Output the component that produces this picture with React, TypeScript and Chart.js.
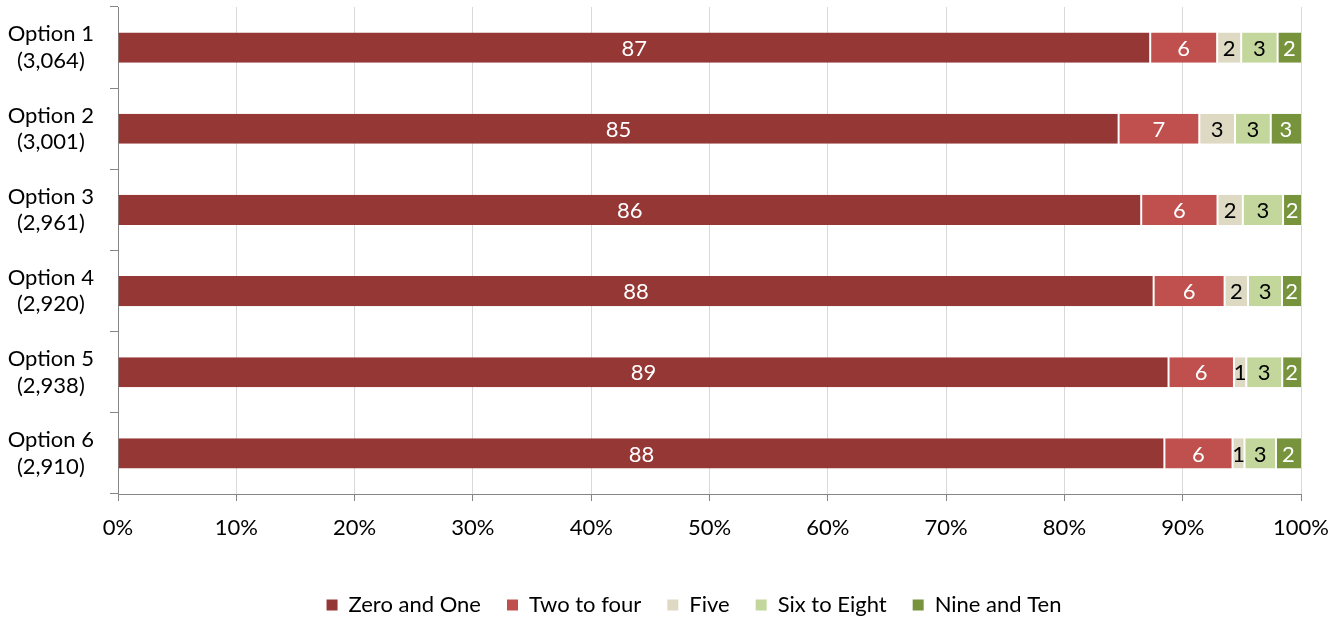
import { useEffect, useRef } from 'react';
import { Chart, registerables } from 'chart.js';

Chart.register(...registerables);

const categories = ['Option 1', 'Option 2', 'Option 3', 'Option 4', 'Option 5', 'Option 6'];
const respondents = ['(3,064)', '(3,001)', '(2,961)', '(2,920)', '(2,938)', '(2,910)'];
const seriesNames = ['Zero and One', 'Two to four', 'Five', 'Six to Eight', 'Nine and Ten'];
const zeroAndOne = [87.25, 84.58, 86.49, 87.54, 88.8, 88.45];
const twoToFour = [5.66, 6.82, 6.45, 6.0, 5.53, 5.76];
const five = [2.03, 3.02, 2.14, 1.98, 1.04, 1.01];
const sixToEight = [3.08, 3.02, 3.4, 2.87, 3.04, 2.66];
const nineAndTen = [1.98, 2.56, 1.52, 1.61, 1.59, 2.12];

const seriesValues = [zeroAndOne, twoToFour, five, sixToEight, nineAndTen];
const seriesColors = ['#953735', '#C0504D', '#DDD9C3', '#C3D69B', '#77933C'];
const labelColors = ['#ffffff', '#ffffff', '#000000', '#000000', '#ffffff'];

const FONT_FAMILY = "Lato, 'Open Sans', sans-serif";
const FONT_SIZE = 22;

const segmentLabels = {
  id: 'segmentLabels',
  afterLayout(chart: any) {
    if (chart.legend) {
      chart.legend.left = 85;
    }
  },
  afterDatasetsDraw(chart: any) {
    const ctx = chart.ctx;
    ctx.save();
    ctx.font = `${FONT_SIZE}px ${FONT_FAMILY}`;
    ctx.textAlign = 'center';
    ctx.textBaseline = 'middle';
    chart.data.datasets.forEach((ds: any, di: number) => {
      const meta = chart.getDatasetMeta(di);
      meta.data.forEach((bar: any, i: number) => {
        const v = ds.data[i] as number;
        const { x, base, y } = bar.getProps(['x', 'base', 'y'], true);
        ctx.fillStyle = labelColors[di];
        ctx.fillText(String(Math.round(v)), (x + base) / 2, y + 1);
      });
    });
    ctx.restore();
  },
};

export default function App() {
  const canvasRef = useRef<HTMLCanvasElement | null>(null);

  useEffect(() => {
    if (!canvasRef.current) return;
    const font = { family: FONT_FAMILY, size: FONT_SIZE };
    const n = seriesValues.length;
    const chart = new Chart(canvasRef.current, {
      type: 'bar',
      data: {
        labels: categories.map((c, i) => [c, respondents[i]]),
        datasets: seriesValues.map((vals, di) => ({
          label: seriesNames[di],
          data: vals,
          backgroundColor: seriesColors[di],
          borderColor: '#ffffff',
          borderWidth: { left: di === 0 ? 0 : 1, right: di === n - 1 ? 0 : 1, top: 0, bottom: 0 },
          borderSkipped: false,
          barPercentage: 0.372,
          categoryPercentage: 1,
        })),
      },
      options: {
        indexAxis: 'y',
        animation: false,
        responsive: false,
        devicePixelRatio: 1,
        layout: { padding: { top: 7, right: 40, left: 0, bottom: 0 } },
        scales: {
          x: {
            stacked: true,
            min: 0,
            max: 100,
            ticks: {
              stepSize: 10,
              callback: (v: any) => `${v}%`,
              color: '#000000',
              font,
              padding: 14,
            },
            grid: { color: '#d9d9d9', tickColor: '#868686', tickLength: 7 },
            border: { color: '#868686', width: 1 },
            afterFit: (s: any) => {
              s.height = 74;
            },
          },
          y: {
            stacked: true,
            ticks: {
              color: '#000000',
              font: { ...font, lineHeight: 1.2 },
              crossAlign: 'center',
              padding: 16,
            },
            grid: { drawOnChartArea: false, tickLength: 8, color: '#868686', offset: true },
            border: { color: '#868686', width: 1 },
            afterFit: (s: any) => {
              s.width = 118;
              s.paddingTop = 0;
              s.paddingBottom = 0;
            },
          },
        },
        plugins: {
          legend: {
            position: 'bottom',
            maxHeight: 50,
            labels: {
              boxWidth: 11,
              boxHeight: 11,
              padding: 26,
              color: '#000000',
              font,
              generateLabels: (c: any) =>
                Chart.defaults.plugins.legend.labels
                  .generateLabels(c)
                  .map((l: any) => ({ ...l, lineWidth: 0, strokeStyle: 'rgba(0,0,0,0)' })),
            },
          },
          tooltip: { enabled: false },
        },
      } as any,
      plugins: [segmentLabels],
    });
    return () => chart.destroy();
  }, []);

  return (
    <div style={{ position: 'absolute', left: 0, top: 0, width: 1343, height: 618, background: '#fff' }}>
      <canvas ref={canvasRef} width={1343} height={618} />
    </div>
  );
}
